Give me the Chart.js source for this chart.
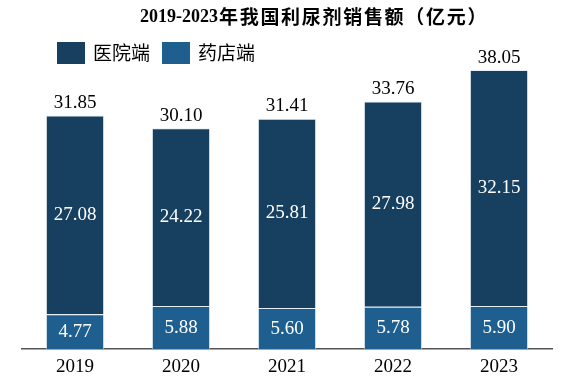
<!DOCTYPE html>
<html><head><meta charset="utf-8">
<script src="https://cdn.jsdelivr.net/npm/chart.js@4/dist/chart.umd.min.js"></script>
<style>html,body{margin:0;padding:0;background:#fff}#wrap{width:576px;height:388px;position:relative}</style>
</head><body><div id="wrap"><canvas id="c" width="576" height="388"></canvas></div>
<script>
const categories = ['2019','2020','2021','2022','2023'];
const hospital = [27.08, 24.22, 25.81, 27.98, 32.15];
const pharmacy = [4.77, 5.88, 5.60, 5.78, 5.90];
const totals = ['31.85','30.10','31.41','33.76','38.05'];
const seriesNames = ['医院端','药店端'];
const titleDigits = '2019-2023';
const titleCJK = '年我国利尿剂销售额（亿元）';

const C_DARK = '#163f60';
const C_MID = '#1e5f90';
const FONT = '"Liberation Serif","Noto Sans CJK SC",serif';

const labelPlugin = {
  id: 'labels',
  afterDatasetsDraw(chart) {
    const ctx = chart.ctx;
    ctx.save();
    // title
    ctx.textBaseline = 'middle';
    ctx.textAlign = 'left';
    ctx.fillStyle = '#000';
    ctx.font = 'bold 18px "Liberation Serif",serif';
    ctx.fillText(titleDigits, 140, 17);
    const dw = ctx.measureText(titleDigits).width;
    ctx.font = 'bold 19px "Noto Sans CJK SC",serif';
    let cx = 140 + dw + 1;
    for (const ch of titleCJK) {
      ctx.fillText(ch, cx, 17);
      cx += 20.7;
    }

    ctx.font = '19px ' + FONT;
    ctx.textAlign = 'center';
    ctx.textBaseline = 'middle';
    const m0 = chart.getDatasetMeta(0), m1 = chart.getDatasetMeta(1);
    m0.data.forEach((b, i) => {
      ctx.fillStyle = '#ffffff';
      ctx.fillText(pharmacy[i].toFixed(2), b.x, (b.y + b.base) / 2);
      const t = m1.data[i];
      ctx.fillText(hospital[i].toFixed(2), t.x, (t.y + t.base) / 2);
      ctx.fillStyle = '#000000';
      ctx.textBaseline = 'bottom';
      ctx.fillText(totals[i], t.x, t.y - 3);
      ctx.textBaseline = 'middle';
    });
    // legend
    const items = [[seriesNames[0], C_DARK], [seriesNames[1], C_MID]];
    let x = 57;
    const y = 42;
    ctx.textAlign = 'left';
    ctx.font = '19px "Noto Sans CJK SC",serif';
    items.forEach(([name, col]) => {
      ctx.fillStyle = col;
      ctx.fillRect(x, y, 28, 22);
      ctx.fillStyle = '#000';
      ctx.fillText(name, x + 36, y + 11);
      x += 36 + ctx.measureText(name).width + 12;
    });
    ctx.restore();
  }
};

new Chart(document.getElementById('c'), {
  type: 'bar',
  data: {
    labels: categories,
    datasets: [
      { label: seriesNames[1], data: pharmacy, backgroundColor: C_MID, borderColor: 'rgba(220,230,240,0.7)', borderWidth: 1, categoryPercentage: 1, barPercentage: 0.55 },
      { label: seriesNames[0], data: hospital, backgroundColor: C_DARK, borderColor: 'rgba(220,230,240,0.7)', borderWidth: 1, categoryPercentage: 1, barPercentage: 0.55 }
    ]
  },
  options: {
    responsive: false,
    animation: false,
    layout: { padding: { left: 22, right: 24, top: 34, bottom: 4 } },
    plugins: {
      legend: { display: false },
      tooltip: { enabled: false },
      title: { display: false }
    },
    scales: {
      x: { stacked: true, grid: { display: false, drawTicks: false }, border: { display: true, color: '#555', width: 1.5 },
           ticks: { color: '#000', font: { family: FONT, size: 19 }, padding: 6 } },
      y: { stacked: true, display: false, min: 0, max: 42.96 }
    }
  },
  plugins: [labelPlugin]
});
</script></body></html>
